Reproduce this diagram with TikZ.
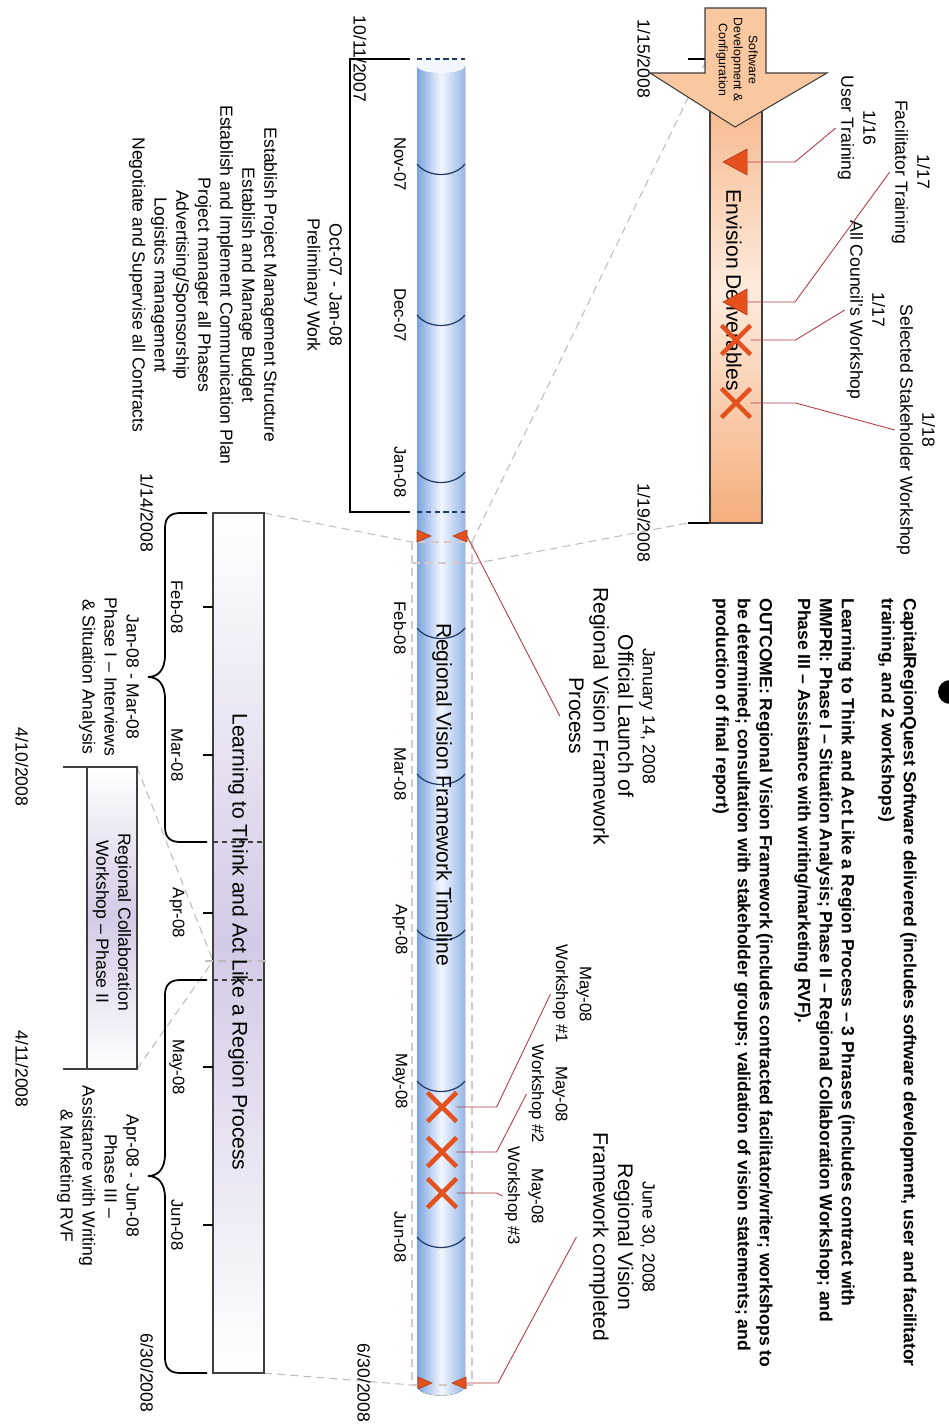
\documentclass[tikz,border=0pt]{standalone}
\usepackage{fontspec}
\setmainfont{Liberation Sans}
\usetikzlibrary{shapes.misc}

\definecolor{cylblue}{HTML}{7AA4E0}
\definecolor{cyllight}{HTML}{F2F6FD}
\definecolor{ringnavy}{HTML}{1F3A68}
\definecolor{markred}{HTML}{E5501F}
\definecolor{leadred}{HTML}{B53A44}
\definecolor{zoomgray}{HTML}{BDBDBD}
\definecolor{rectpink}{HTML}{D9C6C6}
\definecolor{barorange}{HTML}{F5AE7C}
\definecolor{barlight}{HTML}{FDEBDD}
\definecolor{arrowpeach}{HTML}{F9C8A0}
\definecolor{boxlilac}{HTML}{D4CAE6}
\definecolor{edgegray}{HTML}{3F3F3F}

\tikzset{
  lbl/.style={rotate=-90, align=center, inner sep=1pt, font=\fontsize{10}{12.5}\selectfont},
  monthlbl/.style={rotate=-90, inner sep=1pt, font=\fontsize{9.5}{11}\selectfont},
  wslbl/.style={rotate=-90, align=center, inner sep=1pt, font=\fontsize{9.5}{13.5}\selectfont},
  biglbl/.style={rotate=-90, align=center, inner sep=1pt, font=\fontsize{12}{14}\selectfont},
  tinylbl/.style={rotate=-90, align=center, inner sep=0pt, font=\fontsize{7}{8.5}\selectfont},
  notelbl/.style={rotate=-90, align=left, anchor=north west, inner sep=0pt, font=\bfseries\fontsize{10}{12.5}\selectfont},
  ring/.style={draw=ringnavy, line width=0.7pt},
  cut/.style={draw=ringnavy, line width=0.7pt, dash pattern=on 3pt off 2pt},
  leader/.style={draw=leadred, line width=0.5pt},
  zoomline/.style={draw=zoomgray, line width=0.6pt, dash pattern=on 4.5pt off 3pt},
  bracket/.style={draw=black, line width=1pt},
  wsmark/.style={cross out, draw=markred, line width=2.6pt, minimum size=14pt, inner sep=0pt},
  milestone/.style={fill=markred, draw=markred!70!black, line width=0.3pt},
  phasebox/.style={top color=white, bottom color=white, middle color=boxlilac, draw=edgegray, line width=0.6pt},
}

\begin{document}
\begin{tikzpicture}[x=0.02cm, y=-0.02cm]
  \useasboundingbox (0,0) rectangle (948,1425);
  \fill[white] (0,0) rectangle (948,1425);

  % Zoom guide lines
  \draw[zoomline] (472,542) -- (707,59);
  \draw[zoomline] (472,564) -- (688,523);
  \draw[zoomline] (264,513) -- (412,542);
  \draw[zoomline] (264,1373) -- (412,1385);
  \draw[zoomline] (137,767) -- (213,961);
  \draw[zoomline] (137,1069) -- (213,961);

  % Timeline cylinder
  \fill[left color=cylblue, right color=cylblue!80, middle color=cyllight]
    (417,66) -- (417,1385) .. controls (417,1399) and (465,1399) .. (465,1385) -- (465,66) -- cycle;
  \fill[cyllight] (441,66) ellipse [x radius=0.48cm, y radius=0.14cm];
  \draw[cut] (417,59) -- (465,59);
  \draw[cut] (417,512) -- (465,512);

  % Month rings
  \draw[ring] (417,164) .. controls (428,178) and (454,178) .. (465,164);
  \draw[ring] (417,315) .. controls (428,329) and (454,329) .. (465,315);
  \draw[ring] (417,472) .. controls (428,486) and (454,486) .. (465,472);
  \draw[ring] (417,628) .. controls (428,642) and (454,642) .. (465,628);
  \draw[ring] (417,774) .. controls (428,788) and (454,788) .. (465,774);
  \draw[ring] (417,930) .. controls (428,944) and (454,944) .. (465,930);
  \draw[ring] (417,1081) .. controls (428,1095) and (454,1095) .. (465,1081);
  \draw[ring] (417,1237) .. controls (428,1251) and (454,1251) .. (465,1237);

  \draw[zoomline, draw=rectpink] (412,542) rectangle (472,1385);
  \draw[zoomline, draw=rectpink] (412,563) -- (472,563);

  % Preliminary bracket
  \draw[bracket] (410,59) -- (350,59) -- (350,512) -- (410,512);

  % Envision deliverables bar
  \draw[bracket] (688,59) -- (705,59);
  \draw[bracket] (688,523) -- (710,523);
  \filldraw[top color=barorange, bottom color=barorange, middle color=barlight, draw=edgegray, line width=0.6pt]
    (710,59) rectangle (762,523);
  \filldraw[fill=arrowpeach, draw=edgegray, line width=0.6pt]
    (705,8) -- (766,8) -- (766,73) -- (827,73) -- (735,127) -- (650,73) -- (705,73) -- cycle;
  \node[tinylbl] (sdc) at (737,60) {Software\\Development \&\\Configuration};
  \node[rotate=-90, inner sep=0pt, font=\fontsize{12}{14}\selectfont] (envision) at (734,290) {Envision Deliverables};

  % Learning process box
  \filldraw[phasebox] (213,513) rectangle (264,1373);
  \draw[cut, draw=edgegray] (213,842) -- (264,842);
  \draw[cut, draw=edgegray] (213,980) -- (264,980);
  \draw[zoomline] (205,961) -- (268,961);
  \draw[bracket, line width=0.6pt] (203,607) -- (213,607);
  \draw[bracket, line width=0.6pt] (203,755) -- (213,755);
  \draw[bracket, line width=0.6pt] (203,913) -- (213,913);
  \draw[bracket, line width=0.6pt] (203,1067) -- (213,1067);
  \draw[bracket, line width=0.6pt] (203,1225) -- (213,1225);
  \node[biglbl] (learn) at (238,942) {Learning to Think and Act Like a Region Process};

  % Braces
  \draw[bracket] (207,513) -- (180,513) .. controls (170,513) and (165,518) .. (165,528) -- (165,655)
    .. controls (165,670) and (158,677) .. (148,677) .. controls (158,677) and (165,684) .. (165,699)
    -- (165,827) .. controls (165,837) and (170,842) .. (180,842) -- (207,842);
  \draw[bracket] (207,980) -- (180,980) .. controls (170,980) and (165,985) .. (165,995) -- (165,1154)
    .. controls (165,1169) and (158,1176) .. (148,1176) .. controls (158,1176) and (165,1183) .. (165,1198)
    -- (165,1358) .. controls (165,1368) and (170,1373) .. (180,1373) -- (207,1373);

  % Phase II box
  \filldraw[phasebox] (87,767) rectangle (137,1069);
  \draw[edgegray, line width=0.6pt] (63,767) -- (87,767);
  \draw[edgegray, line width=0.6pt] (63,1069) -- (87,1069);
  \node[lbl] (phase2) at (112,922) {Regional Collaboration\\Workshop -- Phase II};

  % Markers on the bar
  \coordinate (usrmk) at (747,162);
  \coordinate (facmk) at (747,302);
  \fill[milestone] (usrmk) -- ++(0,-13) -- ++(-24,13) -- ++(24,13) -- cycle;
  \fill[milestone] (facmk) -- ++(0,-13) -- ++(-24,13) -- ++(24,13) -- cycle;
  \node[wsmark] (council) at (736,340) {};
  \node[wsmark] (stake) at (736,403) {};

  % Markers on the cylinder
  \coordinate (launch) at (467,536);
  \coordinate (finish) at (466,1383);
  \fill[milestone] (417,530) -- (431,536) -- (417,542) -- cycle;
  \fill[milestone] (launch) -- ++(0,-6) -- ++(-14,6) -- ++(14,6) -- cycle;
  \fill[milestone] (418,1377) -- (432,1383) -- (418,1389) -- cycle;
  \fill[milestone] (finish) -- ++(0,-6) -- ++(-14,6) -- ++(14,6) -- cycle;
  \node[wsmark] (ws1) at (442,1107) {};
  \node[wsmark] (ws2) at (442,1152) {};
  \node[wsmark] (ws3) at (442,1193) {};

  % Date labels
  \node[lbl] (d1015) at (644,59) {1/15/2008};
  \node[lbl] (d1019) at (644,523) {1/19/2008};
  \node[lbl] (d1011) at (360,59) {10/11/2007};
  \node[lbl] (d0630a) at (364,1383) {6/30/2008};
  \node[lbl] (d0114) at (147,513) {1/14/2008};
  \node[lbl] (d0630b) at (147,1373) {6/30/2008};
  \node[lbl] (d0410) at (22,767) {4/10/2008};
  \node[lbl] (d0411) at (22,1069) {4/11/2008};

  % Month labels
  \node[monthlbl] (nov) at (400,164) {Nov-07};
  \node[monthlbl] (dec) at (400,315) {Dec-07};
  \node[monthlbl] (jan) at (400,472) {Jan-08};
  \node[monthlbl] (feb) at (400,628) {Feb-08};
  \node[monthlbl] (mar) at (400,774) {Mar-08};
  \node[monthlbl] (apr) at (400,930) {Apr-08};
  \node[monthlbl] (may) at (400,1081) {May-08};
  \node[monthlbl] (jun) at (400,1237) {Jun-08};
  \node[monthlbl] (bfeb) at (177,607) {Feb-08};
  \node[monthlbl] (bmar) at (177,755) {Mar-08};
  \node[monthlbl] (bapr) at (177,913) {Apr-08};
  \node[monthlbl] (bmay) at (177,1067) {May-08};
  \node[monthlbl] (bjun) at (177,1225) {Jun-08};

  \node[biglbl] (rvft) at (442,795) {Regional Vision Framework Timeline};

  % Phase texts
  \node[lbl] (prelim) at (323,285) {Oct-07 - Jan-08\\Preliminary Work};
  \node[lbl] (tasks) at (203,285) {Establish Project Management Structure\\Establish and Manage Budget\\Establish and Implement Communication Plan\\Project manager all Phases\\Advertising/Sponsorship\\Logistics management\\Negotiate and Supervise all Contracts};
  \node[lbl] (phase1) at (109,677) {Jan-08 - Mar-08\\Phase I -- Interviews\\\& Situation Analysis};
  \node[lbl] (phase3) at (98,1176) {Apr-08 - Jun-08\\Phase III --\\Assistance with Writing\\\& Marketing RVF};

  % Milestone labels
  \node[biglbl] (launchlbl) at (612,716) {{\fontsize{10}{14}\selectfont January 14, 2008}\\Official Launch of\\Regional Vision Framework\\Process};
  \node[biglbl] (donelbl) at (622,1237) {{\fontsize{10}{14}\selectfont June 30, 2008}\\Regional Vision\\Framework completed};
  \node[wslbl] (ws1lbl) at (572,994) {May-08\\Workshop \#1};
  \node[wslbl] (ws2lbl) at (548,1094) {May-08\\Workshop \#2};
  \node[wslbl] (ws3lbl) at (524,1196) {May-08\\Workshop \#3};
  \node[lbl] (usrlbl) at (857,128) {1/16\\User Training};
  \node[lbl] (faclbl) at (911,172) {1/17\\Facilitator Training};
  \node[lbl] (coulbl) at (866,310) {1/17\\All Council's Workshop};
  \node[lbl] (stklbl) at (916,430) {1/18\\Selected Stakeholder Workshop};

  % Leaders
  \draw[leader] (usrmk) -- ++(48,0) -- (usrlbl.south);
  \draw[leader] (facmk) -- ++(48,0) -- (faclbl.south);
  \draw[leader] (council.east) -- ++(45,0) -- (coulbl.south);
  \draw[leader] (stake.east) -- ++(45,0) -- (stklbl.south);
  \draw[leader] (launch) -- ([xshift=-4pt]launchlbl.south);
  \draw[leader] (finish) -- ++(32,0) -- ([xshift=-6pt]donelbl.south);
  \draw[leader] (ws1.east) -- ++(40,0) -- (ws1lbl.south);
  \draw[leader] (ws2.east) -- ++(40,0) -- (ws2lbl.south);
  \draw[leader] (ws3.east) -- ++(40,0) -- (ws3lbl.south);

  % Notes
  \node[notelbl] (note1) at (917,598) {CapitalRegionQuest Software delivered (includes software development, user and facilitator\\training, and 2 workshops)};
  \node[notelbl] (note2) at (855,598) {Learning to Think and Act Like a Region Process -- 3 Phrases (includes contract with\\MMPRI: Phase I -- Situation Analysis; Phase II -- Regional Collaboration Workshop; and\\Phase III -- Assistance with writing/marketing RVF).};
  \node[notelbl] (note3) at (773,598) {OUTCOME: Regional Vision Framework (includes contracted facilitator/writer; workshops to\\be determined; consultation with stakeholder groups; validation of vision statements; and\\production of final report)};
  \fill (950,692) circle [radius=0.24cm];
\end{tikzpicture}
\end{document}
